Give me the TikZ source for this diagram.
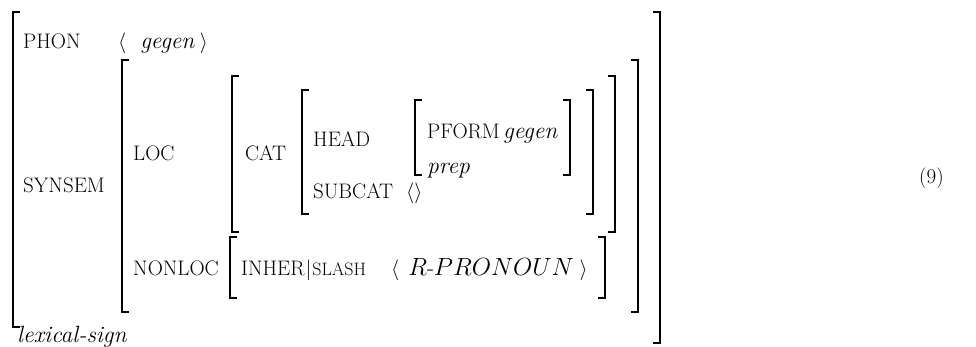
\documentclass[tikz,border=0pt]{standalone}
\begin{document}
\begin{tikzpicture}[x=1pt,y=-1pt,
  lbl/.style={inner sep=0pt,anchor=base west,font=\fontsize{21}{25}\selectfont},
  brk/.style={line width=1.4pt,line cap=butt,line join=miter}]
\useasboundingbox (0,0) rectangle (976,346);
\newcommand{\itx}[1]{{\fontsize{23.5}{27}\selectfont\textit{#1}}}
% brackets
\newcommand{\lbr}[3]{\draw[brk] (#1+7,#2) -- (#1,#2) -- (#1,#3) -- (#1+7,#3);}
\newcommand{\rbr}[3]{\draw[brk] (#1-7,#2) -- (#1,#2) -- (#1,#3) -- (#1-7,#3);}
\lbr{13}{12}{327}\rbr{660}{12}{343}
\lbr{122}{60}{312}\rbr{638}{60}{312}
\lbr{232}{76}{232}\rbr{615}{76}{232}
\lbr{302}{90}{214}\rbr{593}{90}{214}
\lbr{415}{100}{175}\rbr{570}{100}{175}
\lbr{230}{237}{298}\rbr{605}{237}{298}
% texts
\node[lbl] (phon) at (23,48.5) {PHON};
\node[lbl] (phonv) at (118,48.5) {$\langle$\kern14pt\itx{gegen}\kern5pt$\rangle$};
\node[lbl] (synsem) at (23,192) {SYNSEM};
\node[lbl] (loc) at (133,160) {LOC};
\node[lbl] (cat) at (245,160) {CAT};
\node[lbl] (head) at (313,146) {HEAD};
\node[lbl] (subcat) at (313,198) {SUBCAT};
\node[lbl] (subcatv) at (406,198) {$\langle\rangle$};
\node[lbl] (pform) at (427,138) {PFORM\,\itx{gegen}};
\node[lbl] (prep) at (427,173) {\itx{prep}};
\node[lbl] (nonloc) at (133,275) {NONLOC};
\node[lbl] (inher) at (241,275) {INHER\kern1pt$|$\kern1pt{\fontsize{18}{21}\selectfont SLASH}};
\node[lbl] (slashv) at (391,275) {$\langle$\kern9pt{\fontsize{23}{27}\selectfont$R\mbox{-}PRONOUN$}\kern6pt$\rangle$};
\node[lbl] (type) at (17,342) {\itx{lexical-sign}};
\node[lbl] (num) at (919,183) {(9)};
\end{tikzpicture}
\end{document}
